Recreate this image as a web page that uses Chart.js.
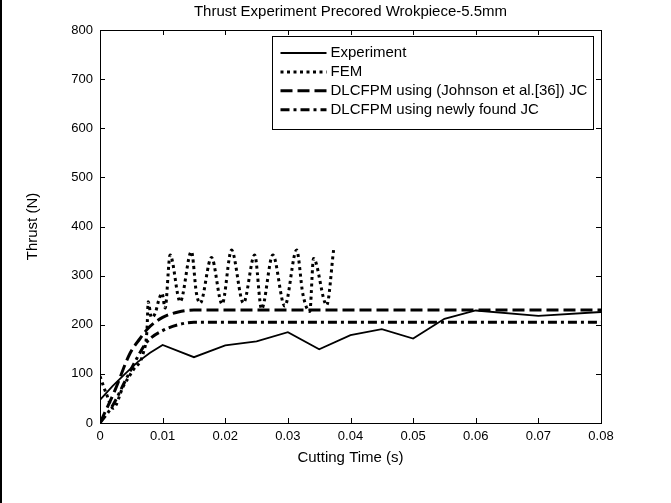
<!DOCTYPE html>
<html><head><meta charset="utf-8">
<script src="https://cdn.jsdelivr.net/npm/chart.js@4.4.0/dist/chart.umd.min.js"></script>
<style>html,body{margin:0;padding:0;background:#fff;}#wrap{width:671px;height:503px;}</style>
</head><body><div id="wrap"><canvas id="c" width="671" height="503"></canvas></div>
<script>
const chartTitle = 'Thrust Experiment Precored Wrokpiece-5.5mm';
const xAxisTitle = 'Cutting Time (s)';
const yAxisTitle = 'Thrust (N)';
const seriesNames = ['Experiment', 'FEM', 'DLCFPM using (Johnson et al.[36]) JC', 'DLCFPM using newly found JC'];
const xTickValues = [0, 0.01, 0.02, 0.03, 0.04, 0.05, 0.06, 0.07, 0.08];
const xTickLabels = ['0', '0.01', '0.02', '0.03', '0.04', '0.05', '0.06', '0.07', '0.08'];
const yTickValues = [0, 100, 200, 300, 400, 500, 600, 700, 800];
const yTickLabels = ['0', '100', '200', '300', '400', '500', '600', '700', '800'];

const expTime   = [0, 0.002, 0.004, 0.006, 0.008, 0.01, 0.015, 0.02, 0.025, 0.03, 0.035, 0.04, 0.045, 0.05, 0.055, 0.06, 0.07, 0.08];
const expThrust = [47, 75, 100, 124, 143, 159, 134, 158, 166, 185, 150, 179, 191, 172, 212, 229, 218, 226];

const femTime   = [0, 0.001, 0.0021, 0.0037, 0.0053, 0.0069, 0.0075, 0.0077, 0.0082, 0.0088, 0.0095, 0.0099, 0.0104, 0.0112, 0.0128, 0.0146, 0.0154, 0.016, 0.0178, 0.0195, 0.021, 0.0229, 0.0247, 0.0258, 0.0276, 0.0295, 0.0314, 0.0324, 0.0335, 0.0341, 0.0362, 0.0373];
const femThrust = [95, 60, 30, 74, 108, 142, 189, 247, 215, 223, 255, 264, 234, 342, 247, 349, 264, 244, 337, 242, 352, 244, 342, 232, 342, 238, 352, 262, 227, 335, 240, 352];

const johnsonTime   = [0, 0.0024, 0.0048, 0.0064, 0.0077, 0.01, 0.0125, 0.015, 0.08];
const johnsonThrust = [0, 67, 142, 172, 193, 215, 226, 230, 230];

const newJcTime   = [0, 0.002, 0.004, 0.0056, 0.0075, 0.01, 0.0125, 0.015, 0.08];
const newJcThrust = [0, 35, 85, 125, 165, 188, 200, 205, 205];

const pts = (xs, ys) => xs.map((x, i) => ({x: x, y: ys[i]}));
const FONT = 'Liberation Sans, Arial, Helvetica, sans-serif';

const frame = {
  id: 'frame',
  afterDraw(chart) {
    const ctx = chart.ctx, a = chart.chartArea, sx = chart.scales.x, sy = chart.scales.y;
    ctx.save();
    ctx.fillStyle = '#000';
    ctx.fillRect(0, 0, 2, 503);
    ctx.strokeStyle = '#000'; ctx.lineWidth = 1; ctx.setLineDash([]);
    ctx.strokeRect(Math.round(a.left) + 0.5, Math.round(a.top) + 0.5, Math.round(a.right - a.left), Math.round(a.bottom - a.top));
    const tl = 5;
    ctx.beginPath();
    xTickValues.forEach(v => {
      const p = Math.round(sx.getPixelForValue(v)) + 0.5;
      ctx.moveTo(p, a.bottom); ctx.lineTo(p, a.bottom - tl);
      ctx.moveTo(p, a.top); ctx.lineTo(p, a.top + tl);
    });
    yTickValues.forEach(v => {
      const p = Math.round(sy.getPixelForValue(v)) + 0.5;
      ctx.moveTo(a.left, p); ctx.lineTo(a.left + tl, p);
      ctx.moveTo(a.right, p); ctx.lineTo(a.right - tl, p);
    });
    ctx.stroke();
    // legend
    const lw = 321, lh = 93;
    const lx = Math.round(a.right - 8 - lw) + 0.5, ly = Math.round(a.top + 6) + 0.5;
    ctx.fillStyle = '#fff';
    ctx.fillRect(lx, ly, lw, lh);
    ctx.strokeRect(lx, ly, lw, lh);
    ctx.font = '15px ' + FONT;
    ctx.textBaseline = 'middle';
    ctx.textAlign = 'left';
    chart.data.datasets.forEach((ds, i) => {
      const y = ly + 16.5 + i * 18.9;
      ctx.setLineDash(ds.borderDash || []);
      ctx.lineWidth = ds.borderWidth;
      ctx.beginPath();
      ctx.moveTo(lx + 8, y); ctx.lineTo(lx + 54, y);
      ctx.stroke();
      ctx.setLineDash([]);
      ctx.fillStyle = '#000';
      ctx.fillText(ds.label, lx + 58, y);
    });
    ctx.restore();
  }
};

new Chart(document.getElementById('c'), {
  type: 'line',
  data: {
    datasets: [
      {label: seriesNames[0], data: pts(expTime, expThrust), borderColor: '#000', borderWidth: 1.8, pointRadius: 0, tension: 0},
      {label: seriesNames[1], data: pts(femTime, femThrust), borderColor: '#000', borderWidth: 3, borderDash: [3, 3.5], pointRadius: 0, cubicInterpolationMode: 'monotone'},
      {label: seriesNames[2], data: pts(johnsonTime, johnsonThrust), borderColor: '#000', borderWidth: 3, borderDash: [12, 5], pointRadius: 0, cubicInterpolationMode: 'monotone'},
      {label: seriesNames[3], data: pts(newJcTime, newJcThrust), borderColor: '#000', borderWidth: 3, borderDash: [9, 4, 3, 4], pointRadius: 0, cubicInterpolationMode: 'monotone'}
    ]
  },
  options: {
    responsive: false,
    animation: false,
    devicePixelRatio: 1,
    layout: {padding: {left: 0, right: 70, top: 0, bottom: 0}},
    plugins: {
      legend: {display: false},
      tooltip: {enabled: false},
      title: {display: true, fullSize: false, text: chartTitle, color: '#000', font: {family: FONT, size: 15, weight: 'normal'}, padding: {top: 3, bottom: 9}}
    },
    scales: {
      x: {
        type: 'linear', min: 0, max: 0.08,
        afterBuildTicks: s => { s.ticks = xTickValues.map(v => ({value: v})); },
        afterFit: s => { s.height = 80; },
        grid: {display: false, drawTicks: false},
        border: {display: false},
        ticks: {color: '#000', font: {family: FONT, size: 13}, padding: 6, maxRotation: 0, autoSkip: false,
          callback: (v, i) => xTickLabels[i]},
        title: {display: true, text: xAxisTitle, color: '#000', font: {family: FONT, size: 15}, padding: {top: 0, bottom: 36}}
      },
      y: {
        type: 'linear', min: 0, max: 800,
        afterBuildTicks: s => { s.ticks = yTickValues.map(v => ({value: v})); },
        afterFit: s => { s.width = 100; },
        grid: {display: false, drawTicks: false},
        border: {display: false},
        ticks: {color: '#000', font: {family: FONT, size: 13}, padding: 7, autoSkip: false,
          callback: (v, i) => yTickLabels[i]},
        title: {display: true, text: yAxisTitle, color: '#000', font: {family: FONT, size: 15}, padding: {top: 24, bottom: 0}}
      }
    }
  },
  plugins: [frame]
});
</script></body></html>
